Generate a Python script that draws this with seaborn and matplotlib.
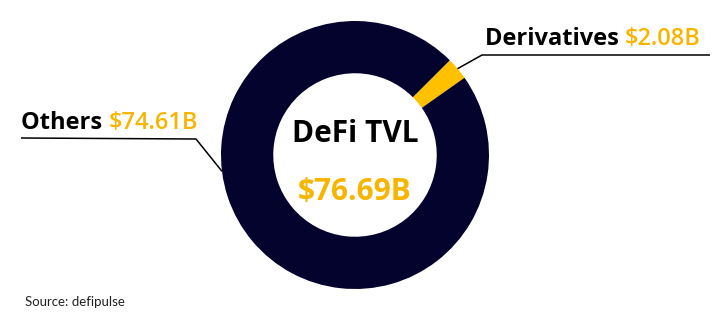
import matplotlib
matplotlib.use("Agg")
import matplotlib.pyplot as plt
import seaborn as sns
import numpy as np

categories = ["Derivatives", "Others"]
values = [2.08, 74.61]
value_labels = ["$2.08B", "$74.61B"]
center_title = "DeFi TVL"
center_value = "$76.69B"
source = "Source: defipulse"

NAVY = "#03032e"
GOLD = "#ffc000"
TEXT_GOLD = "#f7b500"

sns.set_theme(style="white")
plt.rcParams["font.family"] = ["Open Sans", "DejaVu Sans"]

W, H = 720, 320
fig = plt.figure(figsize=(W / 100, H / 100), dpi=100)
ax = fig.add_axes([0, 0, 1, 1])

CX, CY, R = 355, 155, 134  # pixel geometry of the donut


def px(x, y):
    return (x - CX) / R, (CY - y) / R


total = sum(values)
start = 35.2
wedges, _ = ax.pie(values, colors=[GOLD, NAVY], startangle=start, counterclock=True,
                   radius=1.0, wedgeprops=dict(width=0.39, edgecolor="none", linewidth=0))

ax.set_xlim(px(0, 0)[0], px(W, 0)[0])
ax.set_ylim(px(0, H)[1], px(0, 0)[1])
ax.set_aspect("equal")
ax.axis("off")

# leader line: Derivatives (from wedge mid-angle)
a = np.deg2rad(start + 360 * values[0] / total / 2)
p0 = (np.cos(a), np.sin(a))
ax.plot([p0[0], px(482, 55)[0], px(710, 55)[0]], [p0[1], px(482, 55)[1], px(710, 55)[1]],
        color="black", lw=1.1, solid_capstyle="butt")
# leader line: Others
b = np.deg2rad(187)
p1 = (np.cos(b), np.sin(b))
ax.plot([px(21, 138)[0], px(196, 139)[0], p1[0]], [px(21, 138)[1], px(196, 139)[1], p1[1]],
        color="black", lw=1.1, solid_capstyle="butt")

FS = 17


def label(x, y, name, val):
    t = ax.text(*px(x, y), name + " ", fontsize=FS, fontweight="bold", color="black",
                ha="left", va="baseline")
    fig.canvas.draw()
    bb = t.get_window_extent()
    inv = ax.transData.inverted()
    xe = inv.transform((bb.x1, 0))[0]
    ax.text(xe, px(x, y)[1], val, fontsize=FS, fontweight="semibold", color=TEXT_GOLD,
            ha="left", va="baseline")


label(485, 45, categories[0], value_labels[0])
label(21, 129, categories[1], value_labels[1])

ax.text(*px(355, 142), center_title, fontsize=21.5, fontweight="bold", color="black",
        ha="center", va="baseline")
ax.text(*px(355, 200), center_value, fontsize=21.5, fontweight="bold", color=TEXT_GOLD,
        ha="center", va="baseline")

ax.text(*px(25, 306), source, fontsize=9.5, color="#222222", ha="left", va="baseline",
        family=["Lato", "DejaVu Sans"])

fig.savefig("out.png", dpi=100)
